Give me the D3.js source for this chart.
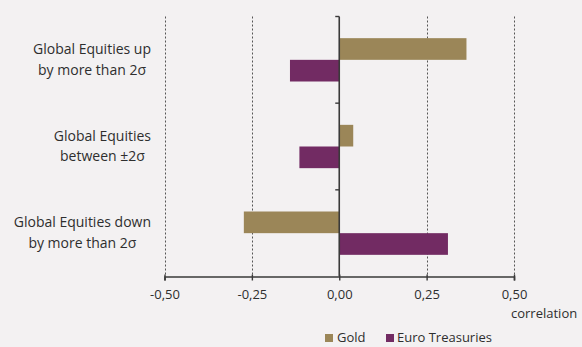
<!DOCTYPE html>
<html>
<head>
<meta charset="utf-8">
<script src="https://cdn.jsdelivr.net/npm/d3@7"></script>
<style>
  html, body { margin: 0; padding: 0; background: #f3f1f2; }
  svg { display: block; }
  text { font-family: "Open Sans", sans-serif; fill: #2e2e2e; }
</style>
</head>
<body>
<svg id="chart" width="582" height="347"></svg>
<script>
// ---- data ----
const categories = ["up", "between", "down"];
const categoryLabels = [
  ["Global Equities up", "by more than 2\u03c3"],
  ["Global Equities", "between \u00b12\u03c3"],
  ["Global Equities down", "by more than 2\u03c3"]
];
const seriesNames = ["Gold", "Euro Treasuries"];
const goldValues = [0.364, 0.040, -0.273];
const euroTreasuriesValues = [-0.141, -0.114, 0.311];
const xTickValues = [-0.5, -0.25, 0, 0.25, 0.5];
const xAxisTitle = "correlation";
const colors = ["#9b8658", "#722b63"];

// ---- layout ----
const svg = d3.select("#chart");
const xLeft = 164.5, xRight = 514, yTop = 16.5, yBottom = 276.5;

const x = d3.scaleLinear().domain([-0.5, 0.5]).range([xLeft, xRight]);
const y0 = d3.scaleBand().domain(categories).range([yTop, yBottom]).paddingInner(0).paddingOuter(0);
const y1 = d3.scaleBand().domain(seriesNames).range([0, y0.bandwidth()]).paddingInner(0).paddingOuter(1);
const color = d3.scaleOrdinal().domain(seriesNames).range(colors);

const rows = [];
categories.forEach((c, i) => {
  rows.push({cat: c, series: seriesNames[0], value: goldValues[i]});
  rows.push({cat: c, series: seriesNames[1], value: euroTreasuriesValues[i]});
});

// gridlines (dashed) except zero
svg.append("g").selectAll("line")
  .data(xTickValues.filter(d => d !== 0))
  .join("line")
  .attr("x1", d => Math.round(x(d)) + 0.5)
  .attr("x2", d => Math.round(x(d)) + 0.5)
  .attr("y1", yTop)
  .attr("y2", yBottom)
  .attr("stroke", "#555")
  .attr("stroke-width", 1)
  .attr("stroke-dasharray", "2,2");

// bars
svg.append("g").selectAll("rect")
  .data(rows)
  .join("rect")
  .attr("x", d => x(Math.min(0, d.value)))
  .attr("width", d => Math.abs(x(d.value) - x(0)))
  .attr("y", d => y0(d.cat) + y1(d.series))
  .attr("height", y1.bandwidth())
  .attr("fill", d => color(d.series));

// x axis
const locale = d3.formatLocale({decimal: ",", thousands: ".", grouping: [3], currency: ["", "\u20ac"], minus: "-"});
const fmt = locale.format(".2f");
const xAxis = svg.append("g")
  .attr("transform", `translate(0,${yBottom})`)
  .call(d3.axisBottom(x).tickValues(xTickValues).tickFormat(fmt).tickSize(4).tickSizeOuter(4));
xAxis.select(".domain").attr("stroke", "#3a3a3a").attr("stroke-width", 1.6);
xAxis.selectAll(".tick line").attr("stroke", "#3a3a3a").attr("stroke-width", 1.4).attr("y1", -2);
xAxis.selectAll(".tick text")
  .attr("y", 13.5)
  .attr("dy", "0.71em")
  .style("font-size", "13px")
  .style("font-family", "'Open Sans', sans-serif")
  .attr("fill", "#2e2e2e");

svg.append("text")
  .attr("x", 511)
  .attr("y", 318)
  .style("font-size", "13px")
  .text(xAxisTitle);

// y axis at zero
const yAxisG = svg.append("g");
yAxisG.append("line")
  .attr("x1", x(0)).attr("x2", x(0))
  .attr("y1", yTop).attr("y2", yBottom)
  .attr("stroke", "#3a3a3a").attr("stroke-width", 1.6);
const boundaries = categories.map(c => y0(c));
yAxisG.selectAll("line.tk")
  .data(boundaries)
  .join("line")
  .attr("class", "tk")
  .attr("x1", x(0) - 4).attr("x2", x(0))
  .attr("y1", d => d).attr("y2", d => d)
  .attr("stroke", "#3a3a3a").attr("stroke-width", 1.4);

// category labels: block right-aligned, lines centered
const labelRight = 151;
const lineGap = 20.5;
categories.forEach((c, i) => {
  const g = svg.append("g");
  const cy = y0(c) + y0.bandwidth() / 2;
  const lines = categoryLabels[i];
  const texts = g.selectAll("text")
    .data(lines)
    .join("text")
    .style("font-size", "14px")
    .attr("text-anchor", "middle")
    .attr("y", (d, j) => cy + 4.5 + (j - (lines.length - 1) / 2) * lineGap)
    .text(d => d);
  let maxW = 0;
  texts.each(function() { maxW = Math.max(maxW, this.getComputedTextLength()); });
  texts.attr("x", labelRight - maxW / 2);
});

// legend
const legendItems = [
  {name: seriesNames[0], sx: 325, tx: 337},
  {name: seriesNames[1], sx: 386, tx: 397}
];
const lg = svg.append("g");
lg.selectAll("rect")
  .data(legendItems)
  .join("rect")
  .attr("x", d => d.sx)
  .attr("y", 334)
  .attr("width", 8)
  .attr("height", 8)
  .attr("fill", d => color(d.name));
lg.selectAll("text")
  .data(legendItems)
  .join("text")
  .attr("x", d => d.tx)
  .attr("y", 342)
  .style("font-size", "13px")
  .text(d => d.name);
</script>
</body>
</html>
